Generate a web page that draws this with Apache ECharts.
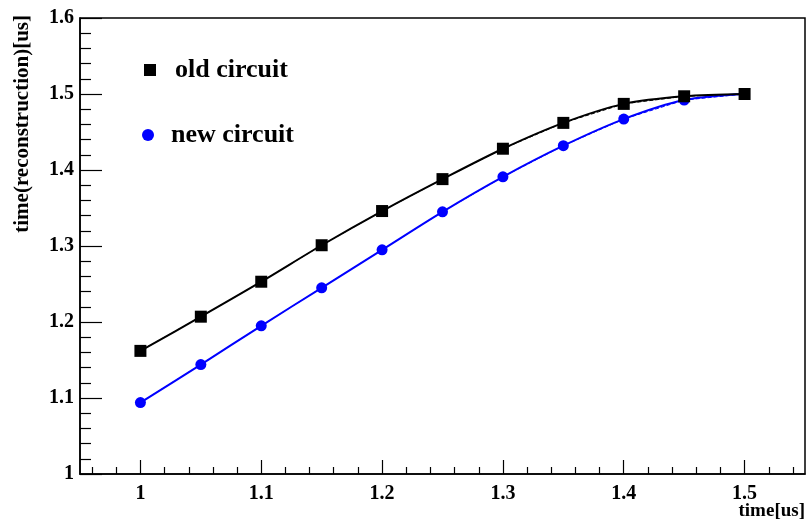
<!DOCTYPE html>
<html><head><meta charset="utf-8">
<script src="https://cdn.jsdelivr.net/npm/echarts@6/dist/echarts.min.js"></script>
<style>html,body{margin:0;padding:0;background:#fff}#c{width:811px;height:526px}</style>
</head><body><div id="c"></div>
<script>
const xValues = [1.00, 1.05, 1.10, 1.15, 1.20, 1.25, 1.30, 1.35, 1.40, 1.45, 1.50];
const oldCircuit = [1.162, 1.207, 1.253, 1.301, 1.346, 1.388, 1.428, 1.462, 1.487, 1.497, 1.500];
const newCircuit = [1.094, 1.144, 1.195, 1.245, 1.295, 1.345, 1.391, 1.432, 1.467, 1.492, 1.500];
const xMajorTicks = [1.0, 1.1, 1.2, 1.3, 1.4, 1.5];
const xMinorTicks = [0.96,0.98,1.02,1.04,1.06,1.08,1.12,1.14,1.16,1.18,1.22,1.24,1.26,1.28,1.32,1.34,1.36,1.38,1.42,1.44,1.46,1.48,1.52,1.54];
const seriesNames = ['old circuit', 'new circuit'];

const font = 'Liberation Serif';
const pairs = arr => xValues.map((x, i) => [x, arr[i]]);
const legendText = {fontFamily: font, fontWeight: 'bold', fontSize: 26, color: '#000'};

const chart = echarts.init(document.getElementById('c'), null, {renderer: 'canvas'});
chart.setOption({
  animation: false,
  backgroundColor: '#fff',
  grid: {left: 80, right: 6, top: 18, bottom: 52, show: true, borderColor: '#000', borderWidth: 1.5, backgroundColor: 'transparent'},
  xAxis: [{
    type: 'value', min: 0.95, max: 1.55,
    axisLine: {lineStyle: {color: '#000', width: 1.5}},
    axisTick: {inside: true, length: 14, customValues: xMajorTicks, lineStyle: {color: '#000', width: 1.2}},
    axisLabel: {customValues: xMajorTicks, margin: 10, color: '#000', fontFamily: font, fontWeight: 'bold', fontSize: 20,
      formatter: v => String(Math.round(v * 10) / 10)},
    splitLine: {show: false}
  }, {
    type: 'value', min: 0.95, max: 1.55, position: 'bottom',
    axisLine: {show: false},
    axisTick: {inside: true, length: 7, customValues: xMinorTicks, lineStyle: {color: '#000', width: 1.2}},
    axisLabel: {show: false},
    splitLine: {show: false}
  }],
  yAxis: {
    type: 'value', min: 1, max: 1.6, interval: 0.1,
    axisLine: {show: true, lineStyle: {color: '#000', width: 1.5}},
    axisTick: {show: true, inside: true, length: 22, lineStyle: {color: '#000', width: 1.2}},
    minorTick: {show: true, splitNumber: 5, length: 11, lineStyle: {color: '#000', width: 1.2}},
    axisLabel: {margin: 6, color: '#000', fontFamily: font, fontWeight: 'bold', fontSize: 20,
      formatter: v => String(Math.round(v * 10) / 10)},
    splitLine: {show: false}
  },
  legend: [{
    left: 139, top: 52, itemWidth: 12, itemHeight: 12, itemGap: 0,
    textStyle: Object.assign({padding: [0, 0, 0, 14]}, legendText),
    data: [{name: seriesNames[0], icon: 'rect'}]
  }, {
    left: 137, top: 117, itemWidth: 12, itemHeight: 12, itemGap: 0,
    textStyle: Object.assign({padding: [0, 0, 0, 12]}, legendText),
    data: [{name: seriesNames[1], icon: 'circle'}]
  }],
  series: [
    {name: seriesNames[0] + ' pts', type: 'line', data: pairs(oldCircuit), showSymbol: false, symbol: 'none',
      lineStyle: {color: '#000', width: 1, type: 'dashed'}, z: 1},
    {name: seriesNames[1] + ' pts', type: 'line', data: pairs(newCircuit), showSymbol: false, symbol: 'none',
      lineStyle: {color: '#0000ff', width: 1, type: 'dashed'}, z: 1},
    {name: seriesNames[1], type: 'line', data: pairs(newCircuit), smooth: 0.3, symbol: 'circle', symbolSize: 11,
      itemStyle: {color: '#0000ff'}, lineStyle: {color: '#0000ff', width: 2}, z: 3},
    {name: seriesNames[0], type: 'line', data: pairs(oldCircuit), smooth: 0.3, symbol: 'rect', symbolSize: 12,
      itemStyle: {color: '#000'}, lineStyle: {color: '#000', width: 2}, z: 4}
  ],
  graphic: [
    {type: 'text', right: 6, top: 502, style: {text: 'time[us]', font: 'bold 19px "Liberation Serif"', fill: '#000'}},
    {type: 'text', x: 12, y: 15, rotation: Math.PI / 2,
      style: {text: 'time(reconstruction)[us]', font: 'bold 21px "Liberation Serif"', fill: '#000', align: 'right', verticalAlign: 'top'}}
  ]
});
</script></body></html>
